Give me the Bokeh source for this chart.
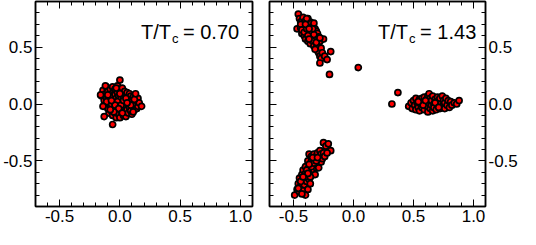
from bokeh.plotting import figure
from bokeh.layouts import row
from bokeh.models import (LinearAxis, SingleIntervalTicker, NumeralTickFormatter,
                          CustomJSTickFormatter, Label, ColumnDataSource)
from bokeh.embed import file_html
from bokeh.resources import INLINE

# ---------------- data ----------------
# Left panel, T/Tc = 0.70 : one cluster round the origin
left_points = [
    (-0.15, 0.07), (-0.14, 0.12), (-0.13, 0.03), (-0.12, 0.09), (-0.12, -0.01), (-0.11, 0.15), (-0.11, 0.05), (-0.10, -0.04), (-0.10, 0.11), (-0.09, 0.01),
    (-0.09, 0.07), (-0.09, -0.08), (-0.08, 0.13), (-0.08, -0.02), (-0.08, 0.04), (-0.07, 0.09), (-0.07, -0.06), (-0.07, 0.00), (-0.06, 0.15), (-0.06, 0.06),
    (-0.06, -0.10), (-0.05, 0.02), (-0.05, 0.11), (-0.05, -0.04), (-0.04, 0.08), (-0.04, -0.08), (-0.04, 0.13), (-0.03, 0.00), (-0.03, 0.05), (-0.03, -0.12),
    (-0.02, 0.10), (-0.02, -0.05), (-0.02, 0.16), (-0.01, 0.03), (-0.01, -0.09), (-0.01, 0.07), (0.00, 0.21), (0.00, -0.02), (0.00, 0.12), (0.00, -0.12),
    (0.01, 0.05), (0.01, -0.06), (0.02, 0.14), (0.02, 0.01), (0.02, 0.09), (0.03, -0.03), (0.03, -0.10), (0.03, 0.06), (0.04, 0.11), (0.04, -0.07),
    (0.04, 0.02), (0.05, -0.01), (0.05, 0.08), (0.05, -0.11), (0.06, 0.04), (0.06, -0.05), (0.06, 0.10), (0.07, 0.00), (0.07, -0.08), (0.07, 0.06),
    (0.08, 0.09), (0.08, -0.03), (0.08, 0.03), (0.09, -0.06), (0.09, 0.07), (0.10, 0.01), (0.10, -0.09), (0.10, 0.04), (0.11, -0.02), (0.11, 0.06),
    (0.12, -0.05), (0.12, 0.02), (0.13, 0.06), (0.13, -0.01), (0.14, 0.03), (0.14, -0.04), (0.15, 0.05), (0.15, -0.02), (0.16, 0.01), (0.18, -0.02),
    (-0.13, -0.11), (-0.06, -0.18), (-0.11, 0.02), (-0.02, 0.02), (0.01, -0.01), (-0.04, -0.01), (0.03, 0.03), (-0.07, 0.03), (0.05, 0.05), (-0.10, 0.08),
    (0.09, -0.01), (-0.01, -0.04), (0.02, -0.08), (0.11, -0.07), (-0.05, -0.07), (0.00, 0.09), (-0.08, -0.05), (0.06, 0.01), (0.12, 0.04), (-0.03, 0.14),
    (-0.16, 0.08), (-0.12, 0.16), (0.13, 0.09), (-0.14, -0.02),
]

# Right panel, T/Tc = 1.43 : three clusters and a few stray points
upper_points = [
    (-0.46, 0.79), (-0.45, 0.75), (-0.44, 0.72), (-0.47, 0.66), (-0.44, 0.67), (-0.43, 0.73), (-0.42, 0.76), (-0.42, 0.70), (-0.43, 0.62), (-0.41, 0.68),
    (-0.40, 0.73), (-0.41, 0.60), (-0.40, 0.66), (-0.38, 0.75), (-0.39, 0.70), (-0.40, 0.57), (-0.38, 0.64), (-0.37, 0.69), (-0.38, 0.55), (-0.36, 0.72),
    (-0.37, 0.62), (-0.36, 0.66), (-0.36, 0.58), (-0.35, 0.71), (-0.36, 0.53), (-0.35, 0.64), (-0.35, 0.60), (-0.34, 0.68), (-0.34, 0.56), (-0.33, 0.71),
    (-0.34, 0.62), (-0.33, 0.58), (-0.32, 0.66), (-0.33, 0.51), (-0.32, 0.60), (-0.32, 0.55), (-0.31, 0.64), (-0.31, 0.49), (-0.31, 0.57), (-0.30, 0.62),
    (-0.30, 0.53), (-0.30, 0.47), (-0.29, 0.59), (-0.29, 0.51), (-0.29, 0.45), (-0.28, 0.55), (-0.28, 0.42), (-0.27, 0.49), (-0.27, 0.40), (-0.26, 0.45),
    (-0.25, 0.57), (-0.28, 0.36), (-0.24, 0.42), (-0.22, 0.39), (-0.44, 0.70), (-0.43, 0.65), (-0.39, 0.75), (-0.41, 0.63), (-0.36, 0.62), (-0.38, 0.60),
    (-0.39, 0.66), (-0.35, 0.56), (-0.33, 0.61), (-0.34, 0.66), (-0.37, 0.57), (-0.31, 0.54), (-0.28, 0.58), (-0.32, 0.48), (-0.40, 0.70), (-0.37, 0.66),
]
side_points = [
    (0.46, -0.02), (0.48, 0.01), (0.49, -0.04), (0.50, 0.03), (0.51, -0.01), (0.52, 0.05), (0.52, -0.05), (0.53, 0.01), (0.54, -0.03), (0.55, 0.04),
    (0.55, -0.06), (0.56, 0.00), (0.57, 0.05), (0.57, -0.03), (0.58, 0.02), (0.59, -0.05), (0.59, 0.06), (0.60, 0.00), (0.61, -0.02), (0.61, 0.04),
    (0.62, 0.07), (0.62, -0.07), (0.63, 0.01), (0.63, 0.09), (0.64, -0.04), (0.64, 0.05), (0.65, -0.01), (0.65, 0.03), (0.66, -0.06), (0.66, 0.07),
    (0.67, 0.00), (0.67, -0.03), (0.68, 0.04), (0.69, -0.05), (0.69, 0.02), (0.70, 0.06), (0.70, -0.01), (0.71, 0.03), (0.72, -0.04), (0.72, 0.05),
    (0.73, 0.00), (0.74, -0.02), (0.74, 0.07), (0.75, 0.03), (0.76, -0.04), (0.76, 0.01), (0.77, 0.05), (0.78, -0.01), (0.79, 0.03), (0.80, -0.03),
    (0.81, 0.02), (0.82, -0.01), (0.84, 0.01), (0.86, 0.00), (0.88, 0.03), (0.58, -0.01), (0.60, 0.03), (0.68, 0.01), (0.71, -0.03), (0.54, 0.02),
]
lower_points = [
    (-0.49, -0.80), (-0.47, -0.75), (-0.46, -0.70), (-0.45, -0.77), (-0.45, -0.65), (-0.44, -0.72), (-0.43, -0.68), (-0.43, -0.62), (-0.42, -0.76), (-0.42, -0.58),
    (-0.41, -0.66), (-0.41, -0.71), (-0.40, -0.61), (-0.40, -0.55), (-0.39, -0.68), (-0.39, -0.64), (-0.38, -0.57), (-0.38, -0.75), (-0.38, -0.50), (-0.37, -0.62),
    (-0.37, -0.66), (-0.37, -0.44), (-0.36, -0.54), (-0.36, -0.59), (-0.36, -0.70), (-0.35, -0.50), (-0.35, -0.63), (-0.35, -0.46), (-0.34, -0.56), (-0.34, -0.60),
    (-0.34, -0.52), (-0.33, -0.48), (-0.33, -0.58), (-0.33, -0.44), (-0.32, -0.54), (-0.32, -0.50), (-0.32, -0.62), (-0.31, -0.46), (-0.31, -0.56), (-0.30, -0.52),
    (-0.30, -0.43), (-0.29, -0.49), (-0.29, -0.56), (-0.28, -0.46), (-0.28, -0.41), (-0.27, -0.51), (-0.27, -0.44), (-0.26, -0.48), (-0.25, -0.34), (-0.25, -0.43),
    (-0.24, -0.46), (-0.23, -0.37), (-0.21, -0.35), (-0.19, -0.41), (-0.22, -0.43), (-0.46, -0.74), (-0.40, -0.80), (-0.44, -0.68), (-0.40, -0.64), (-0.36, -0.64),
    (-0.39, -0.58), (-0.35, -0.55), (-0.33, -0.52), (-0.31, -0.50), (-0.38, -0.61), (-0.42, -0.64), (-0.34, -0.47), (-0.30, -0.47), (-0.37, -0.53), (-0.43, -0.79),
]
stray_points = [(0.04, 0.32), (-0.20, 0.26), (-0.19, 0.46), (0.37, 0.10), (0.32, 0.00)]

panel_labels = ["0.70", "1.43"]
x_limits = (-0.7, 1.1)
y_limits = (-0.9, 0.9)

FONT = "Liberation Sans"


def style_axis(ax, labelled):
    ax.ticker = SingleIntervalTicker(interval=0.5, num_minor_ticks=5)
    ax.axis_line_color = "black"
    ax.axis_line_width = 1.5
    ax.major_tick_in = 7
    ax.major_tick_out = 0
    ax.minor_tick_in = 4
    ax.minor_tick_out = 0
    ax.major_tick_line_color = "black"
    ax.minor_tick_line_color = "black"
    ax.major_tick_line_width = 1
    ax.minor_tick_line_width = 1
    if labelled:
        ax.formatter = NumeralTickFormatter(format="0.0")
        ax.major_label_text_font = FONT
        ax.major_label_text_font_size = "17px"
        ax.major_label_text_color = "black"
        ax.major_label_standoff = 3
    else:
        ax.formatter = CustomJSTickFormatter(code="return ''")
        ax.major_label_text_font_size = "1px"
        ax.major_label_standoff = 0
    return ax


def make_panel(points, label_value, y_side, border_left, border_right, text_x):
    p = figure(x_range=x_limits, y_range=y_limits,
               width=border_left + 217 + border_right, height=229,
               min_border_left=border_left, min_border_right=border_right,
               min_border_top=1, min_border_bottom=23,
               x_axis_location=None, y_axis_location=None,
               toolbar_location=None, output_backend="svg")
    p.outline_line_color = "black"
    p.outline_line_width = 1.5
    p.background_fill_color = "white"
    p.border_fill_color = "white"
    p.grid.visible = False

    p.add_layout(style_axis(LinearAxis(), True), "below")
    p.add_layout(style_axis(LinearAxis(), False), "above")
    if y_side == "left":
        p.add_layout(style_axis(LinearAxis(), True), "left")
        p.add_layout(style_axis(LinearAxis(), False), "right")
    else:
        p.add_layout(style_axis(LinearAxis(), False), "left")
        p.add_layout(style_axis(LinearAxis(), True), "right")

    src = ColumnDataSource(dict(x=[pt[0] for pt in points], y=[pt[1] for pt in points]))
    p.scatter("x", "y", source=src, size=6, fill_color="red",
              line_color="black", line_width=1.7)

    base_y = 0.635
    p.add_layout(Label(x=text_x, y=base_y, text="T/T", text_font=FONT,
                       text_font_size="20px", text_color="black",
                       text_baseline="alphabetic", text_align="left"))
    p.add_layout(Label(x=text_x, y=base_y, x_offset=31, y_offset=-7, text="c",
                       text_font=FONT, text_font_size="13px", text_color="black",
                       text_baseline="alphabetic", text_align="left"))
    p.add_layout(Label(x=text_x, y=base_y, x_offset=42, text="= " + label_value,
                       text_font=FONT, text_font_size="20px", text_color="black",
                       text_baseline="alphabetic", text_align="left"))
    return p


p_left = make_panel(left_points, panel_labels[0], "left", 35, 8, 0.175)
p_right = make_panel(upper_points + side_points + lower_points + stray_points,
                     panel_labels[1], "right", 9, 34, 0.205)

layout = row(p_left, p_right)
open("out.html", "w").write(file_html(layout, INLINE))
